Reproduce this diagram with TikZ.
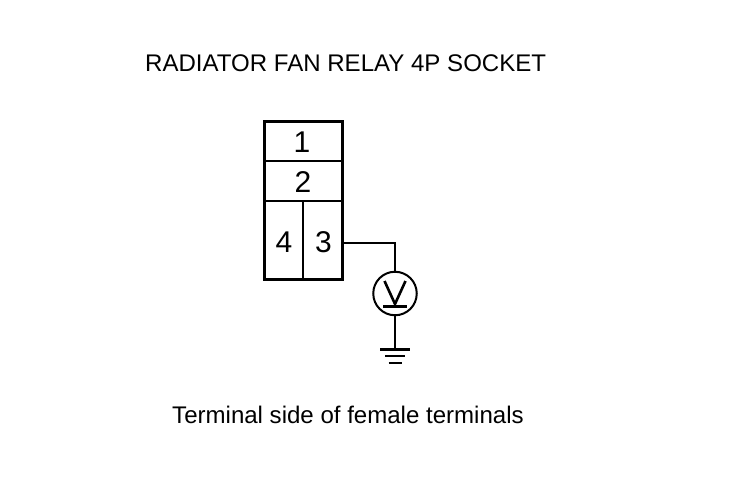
\documentclass[tikz,border=0pt]{standalone}
\usepackage{fontspec}
\setmainfont{Liberation Sans}
\begin{document}
\begin{tikzpicture}[x=1pt,y=-1pt,
  thick box/.style={line width=3.6pt,line cap=rect},
  thin line/.style={line width=2pt},
  title/.style={inner sep=0pt,font=\fontsize{24.05}{28}\selectfont},
  pin/.style={inner sep=0pt,font=\fontsize{30}{32}\selectfont},
  meter/.style={circle,draw,line width=2pt,minimum size=43.5pt,inner sep=0pt}]
\useasboundingbox (0,0) rectangle (736,480);
\node[title,anchor=west] (head) at (145,63) {RADIATOR FAN RELAY 4P SOCKET};
\node[title,anchor=west] (foot) at (172,415) {Terminal side of female terminals};
\draw[thin line] (264.5,160.5) -- (342.5,160.5);
\draw[thin line] (264.5,200.5) -- (342.5,200.5);
\draw[line width=2.5pt] (303,200.5) -- (303,279.5);
\draw[thick box] (264.5,121.5) rectangle (342.5,279.5);
\node[pin] (p1) at (302,142) {1};
\node[pin] (p2) at (303,182) {2};
\node[pin] (p4) at (284,242) {4};
\node[pin] (p3) at (323.5,242) {3};
\coordinate (term) at (344,242.5);
\node[meter] (vm) at (395,293.5) {};
\coordinate (gnd) at (395,349);
\draw[thin line] (term) -| (vm.north);
\draw[thin line] (vm.south) -- (gnd);
\draw[line width=3pt] (380,349) -- (410,349);
\draw[thin line] (385,356) -- (405,356);
\draw[thin line] (388.5,362.5) -- (401.5,362.5);
\draw[line width=3pt] (383,306) -- (407,306);
\draw[line width=2.6pt,line join=miter] (384.5,281) -- (395,304) -- (405.5,281);
\end{tikzpicture}
\end{document}
